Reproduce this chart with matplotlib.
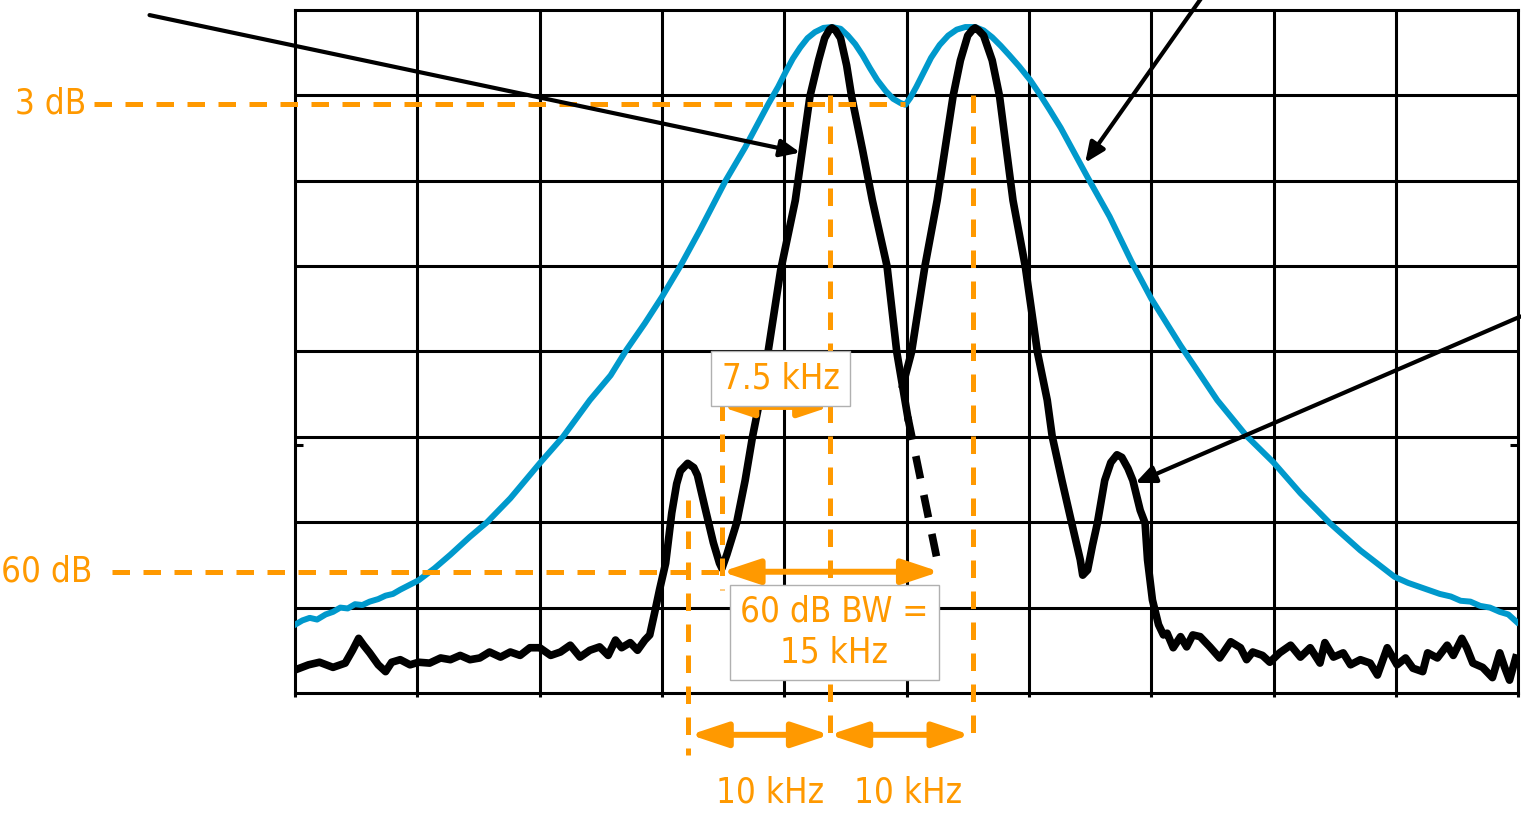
import matplotlib
matplotlib.use("Agg")
import matplotlib.pyplot as plt

# all positions in screen divisions: x 0..10, y 0..8
ORANGE = "#FF9900"
BLUE = "#0099CC"
FONT = ["DejaVu Sans"]

# narrow (resolved) trace, left part up to the first peak's falling edge
narrow_x1 = [0.00, 0.11, 0.20, 0.31, 0.41, 0.47, 0.52, 0.56, 0.61, 0.68, 0.74, 0.79,
             0.86, 0.94, 1.01, 1.10, 1.19, 1.27, 1.35, 1.43, 1.51, 1.59, 1.68, 1.76,
             1.84, 1.92, 2.00, 2.09, 2.17, 2.25, 2.33, 2.41, 2.49, 2.56, 2.62, 2.67,
             2.74, 2.80, 2.86, 2.90, 2.94, 2.98, 3.03, 3.08, 3.12, 3.15, 3.21, 3.26,
             3.29, 3.35, 3.42, 3.47, 3.49, 3.53, 3.61, 3.68, 3.74, 3.80, 3.87, 3.97,
             4.09, 4.21, 4.28, 4.33, 4.37, 4.39, 4.42, 4.46, 4.51, 4.55, 4.64, 4.72,
             4.84, 4.92, 5.01]
narrow_y1 = [0.27, 0.33, 0.36, 0.30, 0.35, 0.50, 0.64, 0.56, 0.47, 0.33, 0.25, 0.36,
             0.39, 0.33, 0.36, 0.35, 0.41, 0.39, 0.44, 0.39, 0.41, 0.48, 0.42, 0.48,
             0.44, 0.53, 0.53, 0.44, 0.48, 0.56, 0.42, 0.50, 0.54, 0.44, 0.62, 0.53,
             0.59, 0.50, 0.62, 0.68, 0.94, 1.21, 1.52, 2.11, 2.45, 2.60, 2.69, 2.64,
             2.55, 2.18, 1.76, 1.52, 1.46, 1.62, 1.99, 2.49, 3.00, 3.43, 4.02, 4.95,
             5.77, 6.99, 7.41, 7.67, 7.77, 7.79, 7.76, 7.67, 7.35, 6.99, 6.36, 5.77,
             5.00, 3.99, 3.23]

# narrow trace, second peak and right side
narrow_x2 = [4.97, 5.04, 5.15, 5.25, 5.38, 5.44, 5.50, 5.54, 5.56, 5.59, 5.63, 5.70,
             5.76, 5.87, 5.97, 6.07, 6.15, 6.19, 6.27, 6.35, 6.42, 6.44, 6.48, 6.52,
             6.56, 6.62, 6.67, 6.72, 6.76, 6.81, 6.85, 6.91, 6.95, 6.97, 7.01, 7.06,
             7.10, 7.13, 7.18, 7.24, 7.29, 7.34, 7.40, 7.48, 7.56, 7.65, 7.73, 7.78,
             7.83, 7.91, 7.97, 8.05, 8.14, 8.22, 8.30, 8.38, 8.42, 8.49, 8.57, 8.63,
             8.71, 8.79, 8.85, 8.93, 9.01, 9.08, 9.14, 9.22, 9.26, 9.34, 9.42, 9.47,
             9.54, 9.58, 9.63, 9.71, 9.79, 9.85, 9.89, 9.93, 9.98]
narrow_y2 = [3.61, 3.99, 5.00, 5.77, 6.99, 7.41, 7.70, 7.77, 7.79, 7.76, 7.70, 7.41,
             6.99, 5.77, 5.00, 3.99, 3.43, 3.01, 2.49, 1.99, 1.56, 1.38, 1.44, 1.73,
             1.99, 2.49, 2.70, 2.79, 2.76, 2.63, 2.49, 2.14, 1.99, 1.56, 1.09, 0.80,
             0.68, 0.70, 0.53, 0.66, 0.54, 0.68, 0.66, 0.54, 0.41, 0.60, 0.53, 0.39,
             0.48, 0.44, 0.36, 0.47, 0.56, 0.42, 0.53, 0.35, 0.59, 0.42, 0.47, 0.33,
             0.39, 0.35, 0.21, 0.53, 0.33, 0.41, 0.29, 0.25, 0.47, 0.41, 0.56, 0.44,
             0.64, 0.53, 0.35, 0.30, 0.18, 0.47, 0.30, 0.15, 0.41]

# hidden part of the first peak's skirt
skirt_x = [5.01, 5.27]
skirt_y = [3.23, 1.42]

# wide RBW trace (unresolved)
wide_x = [0.00, 0.06, 0.12, 0.18, 0.25, 0.31, 0.37, 0.43, 0.49, 0.55, 0.61, 0.68,
          0.74, 0.80, 0.86, 1.01, 1.14, 1.27, 1.43, 1.57, 1.76, 2.00, 2.19, 2.41,
          2.58, 2.71, 2.86, 3.00, 3.15, 3.31, 3.52, 3.68, 3.87, 3.95, 4.01, 4.07,
          4.13, 4.19, 4.25, 4.32, 4.39, 4.46, 4.52, 4.58, 4.64, 4.70, 4.76, 4.83,
          4.89, 4.95, 4.99, 5.03, 5.08, 5.14, 5.20, 5.27, 5.34, 5.41, 5.48, 5.56,
          5.63, 5.70, 5.77, 5.84, 5.92, 6.01, 6.09, 6.17, 6.26, 6.48, 6.66, 6.84,
          7.00, 7.24, 7.54, 7.78, 8.00, 8.22, 8.46, 8.71, 8.99, 9.10, 9.20, 9.28,
          9.36, 9.45, 9.53, 9.61, 9.69, 9.77, 9.85, 9.92, 9.99]
wide_y = [0.80, 0.85, 0.88, 0.86, 0.92, 0.95, 1.00, 0.99, 1.04, 1.03, 1.07, 1.10,
          1.14, 1.16, 1.21, 1.32, 1.46, 1.62, 1.83, 2.00, 2.28, 2.69, 3.00, 3.43,
          3.72, 4.02, 4.33, 4.64, 5.00, 5.42, 6.00, 6.39, 6.90, 7.10, 7.27, 7.43,
          7.56, 7.67, 7.74, 7.79, 7.80, 7.78, 7.70, 7.60, 7.47, 7.32, 7.18, 7.05,
          6.96, 6.91, 6.89, 6.97, 7.10, 7.27, 7.44, 7.59, 7.70, 7.77, 7.80, 7.80,
          7.76, 7.68, 7.58, 7.47, 7.34, 7.18, 7.01, 6.83, 6.62, 6.04, 5.58, 5.05,
          4.62, 4.07, 3.43, 3.01, 2.70, 2.34, 1.99, 1.67, 1.36, 1.29, 1.24, 1.20,
          1.16, 1.13, 1.08, 1.07, 1.02, 1.00, 0.95, 0.92, 0.83]

# measurement marks
level_3db = 6.90
level_60db = 1.42
sidelobe_x = 3.21
bw60_left = 3.49
bw60_right = 5.27
peak1_x = 4.37
peak2_x = 5.54
span_y = -0.49

fig = plt.figure(figsize=(15.21, 8.17), dpi=100)
ax = fig.add_axes([0.1940, 0.1518, 0.8041, 0.8360])
ax.set_xlim(0, 10)
ax.set_ylim(0, 8)
ax.set_xticks(range(11))
ax.set_yticks([2.9])
ax.set_xticklabels([])
ax.set_yticklabels([])
ax.tick_params(axis="x", direction="out", length=3, width=2.2, color="black")
ax.tick_params(axis="y", direction="in", length=6, width=2.2, left=True, right=True)
for x in range(1, 10):
    ax.axvline(x, color="black", lw=2.2, zorder=1)
for y in range(1, 8):
    ax.axhline(y, color="black", lw=2.2, zorder=1)
for s in ax.spines.values():
    s.set_linewidth(2.2)

ax.plot(wide_x, wide_y, color=BLUE, lw=4.3, zorder=3, solid_joinstyle="round")
ax.plot(narrow_x1, narrow_y1, color="black", lw=5.5, zorder=4, solid_joinstyle="round")
ax.plot(narrow_x2, narrow_y2, color="black", lw=5.5, zorder=4, solid_joinstyle="round")
ax.plot(skirt_x, skirt_y, color="black", lw=5.5, zorder=4, dashes=(3.0, 2.2))

dash = dict(color=ORANGE, lw=3.6, dashes=(3.5, 2.7), zorder=5, clip_on=False)
ax.plot([-1.64, 4.99], [level_3db, level_3db], **dash)
ax.plot([-1.50, bw60_left], [level_60db, level_60db], **dash)
ax.plot([sidelobe_x, sidelobe_x], [2.26, -0.73], **dash)
ax.plot([bw60_left, bw60_left], [3.40, 1.21], **dash)
ax.plot([peak1_x, peak1_x], [7.00, -0.55], **dash)
ax.plot([peak2_x, peak2_x], [7.00, -0.55], **dash)

txt = dict(color=ORANGE, fontsize=25, family=FONT, fontstretch="condensed")
ax.text(-1.71, level_3db, "3 dB", ha="right", va="center", **txt)
ax.text(-1.66, level_60db, "60 dB", ha="right", va="center", **txt)
ax.text(3.88, -1.16, "10 kHz", ha="center", va="center", **txt)
ax.text(5.01, -1.16, "10 kHz", ha="center", va="center", **txt)

box = dict(boxstyle="square,pad=0.3", fc="white", ec="#b0b0b0", lw=1)
ax.text(3.97, 3.68, "7.5 kHz", ha="center", va="center", bbox=box, zorder=7, **txt)
ax.text(4.41, 0.71, "60 dB BW =\n15 kHz", ha="center", va="center",
        linespacing=1.25, bbox=box, zorder=7, **txt)


def double_arrow(x0, x1, y, scale=15):
    ax.annotate("", xy=(x1, y), xytext=(x0, y), annotation_clip=False, zorder=6,
                arrowprops=dict(arrowstyle="<|-|>,head_length=1.5,head_width=0.5",
                                color=ORANGE, lw=4.3, mutation_scale=scale,
                                shrinkA=0, shrinkB=0))


double_arrow(sidelobe_x + 0.02, peak1_x, span_y)
double_arrow(peak1_x, peak2_x - 0.02, span_y)
double_arrow(bw60_left, bw60_right, level_60db)
double_arrow(bw60_left, peak1_x, 3.35, scale=12)

pointers = [((-1.19, 7.94), (4.13, 6.33)),
            ((7.44, 8.2), (6.46, 6.21)),
            ((10.02, 4.41), (6.87, 2.46))]
for tail, tip in pointers:
    ax.annotate("", xy=tip, xytext=tail, annotation_clip=False, zorder=8,
                arrowprops=dict(arrowstyle="-|>,head_length=0.8,head_width=0.35",
                                color="black", lw=3, mutation_scale=15,
                                shrinkA=0, shrinkB=0))

fig.savefig("out.png", dpi=100)
